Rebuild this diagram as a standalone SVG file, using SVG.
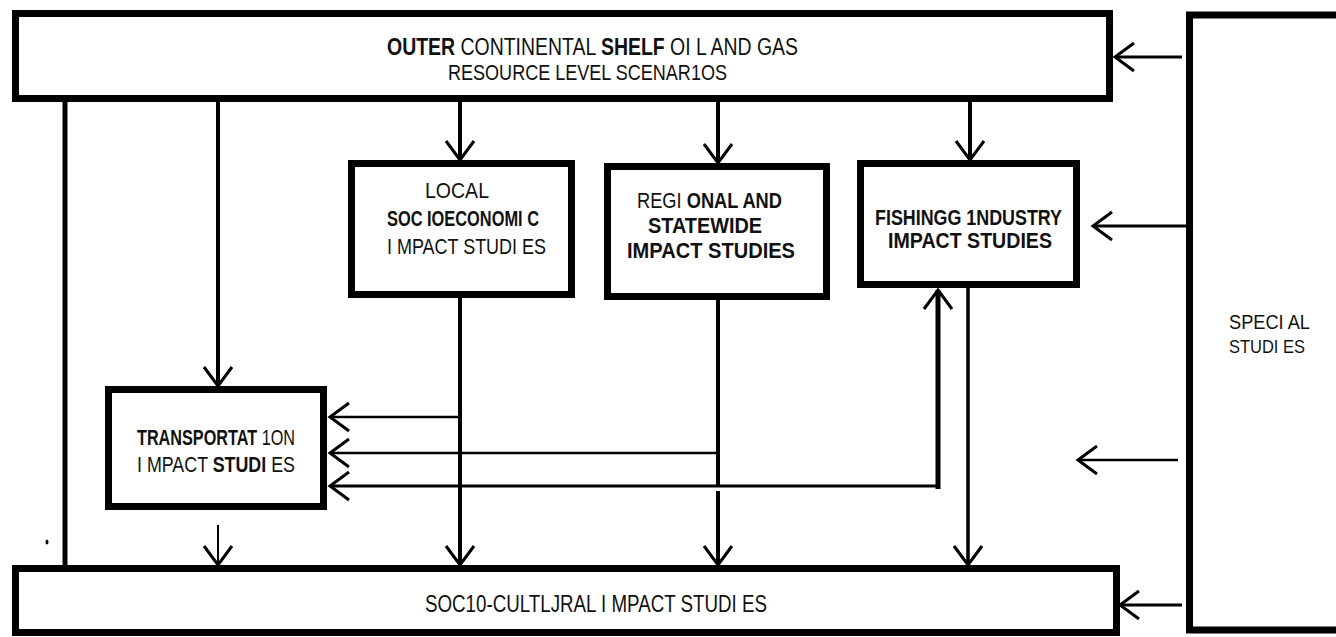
<svg xmlns="http://www.w3.org/2000/svg" width="1336" height="637" viewBox="0 0 1336 637">
<style>
.box{fill:#fff;stroke:#000;stroke-width:7}
.ln{fill:none;stroke:#000;stroke-width:4}
.thin{stroke-width:2.5}
.t{font-family:"Liberation Sans",Arial,sans-serif;fill:#111}
.b{font-weight:bold}
</style>
<defs>
<marker id="ah" viewBox="-22 -20 26 40" refX="0" refY="0" markerWidth="26" markerHeight="40" markerUnits="userSpaceOnUse" orient="auto" overflow="visible">
<path d="M-19,-14 L0,0 L-19,14" fill="none" stroke="#000" stroke-width="3"/>
</marker>
</defs>
<rect width="1336" height="637" fill="#fff"/>

<g id="connectors">
<path class="ln" d="M65 102 V568" style="stroke-width:5"/>
<path class="ln" d="M218 102 V386" marker-end="url(#ah)"/>
<path class="ln" d="M460 102 V160" marker-end="url(#ah)"/>
<path class="ln" d="M718 102 V163" marker-end="url(#ah)"/>
<path class="ln" d="M970 102 V160" marker-end="url(#ah)"/>
<path class="ln" d="M460 298 V565" marker-end="url(#ah)"/>
<path class="ln thin" d="M460 417 H330" marker-end="url(#ah)"/>
<path class="ln" d="M718 300 V486"/>
<path class="ln" d="M718 491 V565" marker-end="url(#ah)"/>
<path class="ln thin" d="M718 453 H330" marker-end="url(#ah)"/>
<path class="ln" d="M938 489 V290" style="stroke-width:5" marker-end="url(#ah)"/>
<path class="ln" d="M938 486 H330" style="stroke-width:3" marker-end="url(#ah)"/>
<path class="ln" d="M968 288 V565" style="stroke-width:3.5" marker-end="url(#ah)"/>
<path class="ln" d="M218 525 V565" style="stroke-width:2" marker-end="url(#ah)"/>
<path class="ln" d="M1186 226 H1093" style="stroke-width:3" marker-end="url(#ah)"/>
<path class="ln" d="M1178 460 H1078" style="stroke-width:2.5" marker-end="url(#ah)"/>
<path class="ln" d="M1182 605 H1120" style="stroke-width:3" marker-end="url(#ah)"/>
<path class="ln" d="M1182 57 H1115" style="stroke-width:3" marker-end="url(#ah)"/>
</g>

<g id="ocs-scenarios">
<rect class="box" x="15.5" y="13.5" width="1094" height="85"/>
<text class="t" transform="translate(387,55) scale(1,1.2)" font-size="19.2" textLength="411" lengthAdjust="spacingAndGlyphs"><tspan class="b">OUTER</tspan> CONTINENTAL <tspan class="b">SHELF</tspan> OI L AND GAS</text>
<text class="t" transform="translate(448,80) scale(1,1.25)" font-size="17.9" textLength="279" lengthAdjust="spacingAndGlyphs">RESOURCE LEVEL SCENAR1OS</text>
</g>

<g id="special-studies">
<rect class="box" x="1189.5" y="15" width="200" height="615"/>
<text class="t" transform="translate(1229,329) scale(1,1.1)" font-size="17.8" textLength="81" lengthAdjust="spacingAndGlyphs">SPECI AL</text>
<text class="t" transform="translate(1229,353) scale(1,1.1)" font-size="17.4" textLength="76" lengthAdjust="spacingAndGlyphs">STUDI ES</text>
</g>

<g id="local">
<rect class="box" x="351.5" y="163.5" width="220" height="131"/>
<text class="t" transform="translate(425,198) scale(1,1.15)" font-size="19.4" textLength="64" lengthAdjust="spacingAndGlyphs">LOCAL</text>
<text class="t b" transform="translate(387,226) scale(1,1.35)" font-size="16.3" textLength="152" lengthAdjust="spacingAndGlyphs">SOC IOECONOMI C</text>
<text class="t" transform="translate(387,254) scale(1,1.25)" font-size="17.7" textLength="159" lengthAdjust="spacingAndGlyphs">I MPACT STUDI ES</text>
</g>

<g id="regional">
<rect class="box" x="607.5" y="166.5" width="219" height="130"/>
<text class="t" transform="translate(637,208) scale(1,1.25)" font-size="18" textLength="145" lengthAdjust="spacingAndGlyphs">REGI <tspan class="b">ONAL AND</tspan></text>
<text class="t b" transform="translate(648,233) scale(1,1.15)" font-size="19.3" textLength="114" lengthAdjust="spacingAndGlyphs">STATEWIDE</text>
<text class="t b" transform="translate(627,258) scale(1,1.12)" font-size="19.8" textLength="168" lengthAdjust="spacingAndGlyphs">IMPACT STUDIES</text>
</g>

<g id="fishing">
<rect class="box" x="860.5" y="163.5" width="216" height="121"/>
<text class="t b" transform="translate(875,225) scale(1,1.25)" font-size="17.7" textLength="187" lengthAdjust="spacingAndGlyphs">FISHINGG 1NDUSTRY</text>
<text class="t b" transform="translate(888,248) scale(1,1.15)" font-size="19.3" textLength="164" lengthAdjust="spacingAndGlyphs">IMPACT STUDIES</text>
</g>

<g id="transportation">
<rect class="box" x="108.5" y="389.5" width="215" height="117"/>
<text class="t" transform="translate(137,445) scale(1,1.35)" font-size="15.9" textLength="158" lengthAdjust="spacingAndGlyphs"><tspan class="b">TRANSPORTAT</tspan> 1ON</text>
<text class="t" transform="translate(137,472) scale(1,1.25)" font-size="17.5" textLength="158" lengthAdjust="spacingAndGlyphs">I MPACT <tspan class="b">STUDI</tspan> ES</text>
</g>

<g id="socio-cultural">
<rect class="box" x="15.5" y="568.5" width="1101" height="64"/>
<text class="t" transform="translate(425,612) scale(1,1.25)" font-size="18.4" textLength="342" lengthAdjust="spacingAndGlyphs">SOC10-CULTLJRAL I MPACT STUDI ES</text>
</g>

<ellipse cx="47" cy="542" rx="1.5" ry="2.5" fill="#000"/>
</svg>
